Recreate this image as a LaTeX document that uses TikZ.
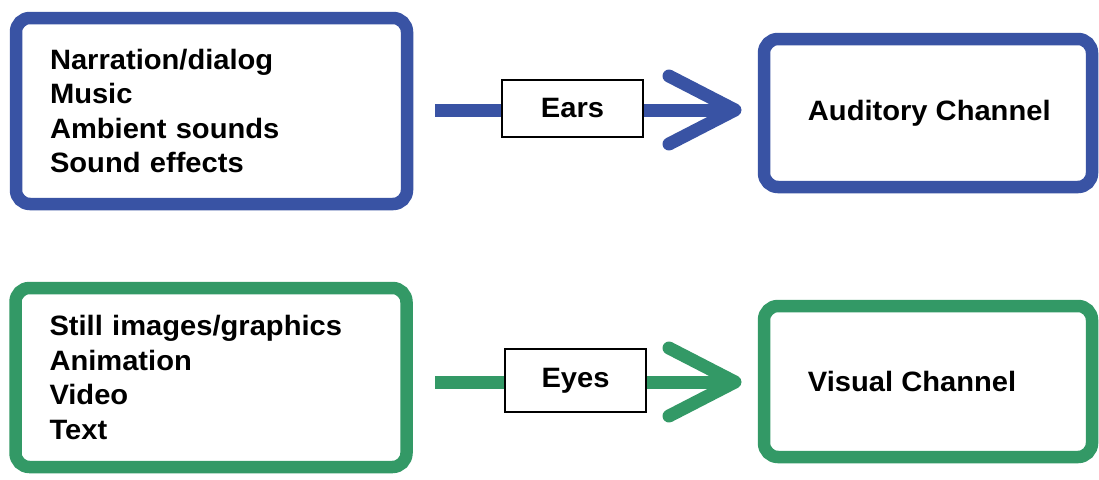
\documentclass[tikz,border=0pt]{standalone}
\usepackage{fontspec}
\setmainfont{Liberation Sans}[FakeStretch=1.04]
\definecolor{chanblue}{RGB}{57,83,164}
\definecolor{changreen}{RGB}{51,153,102}
\begin{document}
\begin{tikzpicture}[x=1pt,y=-1pt,
  txt/.style={font=\fontsize{28}{34.5}\selectfont\bfseries, text=black},
  srcbox/.style={draw=#1, line width=12.5pt, rounded corners=14pt, fill=white,
    txt, align=left, text width=323pt, inner xsep=34pt, inner ysep=0pt},
  chanbox/.style={draw=#1, line width=12.5pt, rounded corners=14pt, fill=white,
    minimum width=328pt, inner sep=0pt},
  organ/.style={draw=black, line width=2pt, fill=white, txt,
    minimum width=141pt, inner sep=0pt},
  shaft/.style={draw=#1, line width=13pt, line cap=butt},
  barb/.style={draw=#1, line width=13pt, line cap=round, line join=round},
]
\useasboundingbox[fill=white] (0,0) rectangle (1099,479);

% ---- auditory row ----
\node[srcbox=chanblue, minimum height=186pt] (snd) at (211.5,111)
  {Narration/dialog\\Music\\Ambient sounds\\Sound effects};
\node[chanbox=chanblue, minimum height=148pt] (aud) at (928,113) {};
\node[txt, anchor=west, inner sep=0pt] (audtxt) at ([xshift=50pt]aud.west) {Auditory Channel};

\coordinate (a0) at (435,110);
\coordinate (atip) at (735,110);
\coordinate (aup) at (669,76);
\coordinate (adn) at (669,144);
\node[organ, minimum height=57pt] (ears) at (572.5,108.5) {Ears};
\draw[shaft=chanblue] (a0) -- (a0 -| ears.west);
\draw[shaft=chanblue] (atip -| ears.east) -- ([xshift=-4pt]atip);
\draw[barb=chanblue] (aup) -- (atip) -- (adn);

% ---- visual row ----
\node[srcbox=changreen, minimum height=179pt] (img) at (211,377.5)
  {Still images/graphics\\Animation\\Video\\Text};
\node[chanbox=changreen, minimum height=151pt] (vis) at (928,381.5) {};
\node[txt, anchor=west, inner sep=0pt] (vistxt) at ([xshift=50pt]vis.west) {Visual Channel};

\coordinate (v0) at (435,382);
\coordinate (vtip) at (735,382);
\coordinate (vup) at (669,348);
\coordinate (vdn) at (669,416);
\node[organ, minimum height=63pt] (eyes) at (575.5,380.5) {Eyes};
\draw[shaft=changreen] (v0) -- (v0 -| eyes.west);
\draw[shaft=changreen] (vtip -| eyes.east) -- ([xshift=-4pt]vtip);
\draw[barb=changreen] (vup) -- (vtip) -- (vdn);
\end{tikzpicture}
\end{document}
